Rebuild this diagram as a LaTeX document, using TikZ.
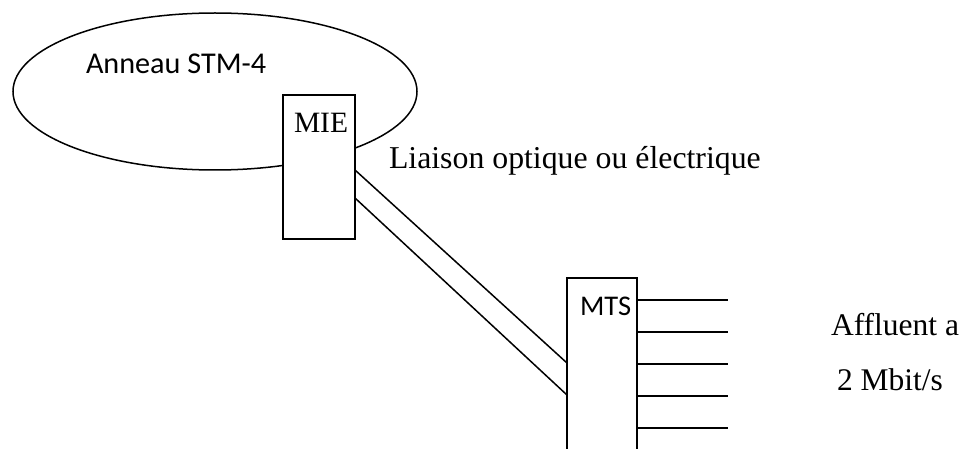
\documentclass[tikz,border=0pt]{standalone}
\usepackage{fontspec}
\setmainfont{Liberation Serif}
\newfontfamily\calib{Carlito}
\usetikzlibrary{shapes.geometric,calc}
\tikzset{
  wire/.style={line width=1.5pt, line cap=butt},
  boxnode/.style={draw, line width=1.5pt, fill=white, inner sep=0pt, outer sep=0pt},
  lbl/.style={inner sep=0pt, outer sep=0pt, anchor=base west}
}
\begin{document}
\begin{tikzpicture}[x=1pt,y=-1pt]
\useasboundingbox (0,0) rectangle (970,449);
\clip (0,0) rectangle (970,449);
% ring
\node[draw, ellipse, line width=1.5pt, minimum width=404pt, minimum height=157pt, inner sep=0pt] (ring) at (215,91.5) {};
\node[lbl] (ringlbl) at (86,74) {\calib\fontsize{30.2}{35}\selectfont Anneau STM-4};
% MIE box
\node[boxnode, minimum width=72pt, minimum height=144pt] (mie) at (319,167) {};
\node[lbl] (mielbl) at (294,133) {\fontsize{29.5}{34}\selectfont MIE};
% MTS box (continues below the picture)
\node[boxnode, minimum width=70pt, minimum height=192pt] (mts) at (602,374) {};
\node[lbl] (mtslbl) at (580,316) {\calib\fontsize{28.5}{33}\selectfont MTS};
% link
\draw[wire] ([yshift=-75pt]mie.north east) -- ([yshift=-85pt]mts.north west);
\draw[wire] ([yshift=-103pt]mie.north east) -- ([yshift=-117pt]mts.north west);
\node[lbl] (link) at (389,169) {\fontsize{31.8}{37}\selectfont Liaison optique ou électrique};
% tributaries
\foreach \i/\d in {1/22,2/54,3/86,4/118,5/150}{
  \coordinate (t\i) at ($([yshift=-\d pt]mts.north east)+(91,0)$);
  \draw[wire] ([yshift=-\d pt]mts.north east) -- (t\i);
}
\node[lbl] (aff1) at (831,336) {\fontsize{31.5}{36}\selectfont Affluent a};
\node[lbl] (aff2) at (837,390) {\fontsize{31.5}{36}\selectfont 2 Mbit/s};
\end{tikzpicture}
\end{document}
